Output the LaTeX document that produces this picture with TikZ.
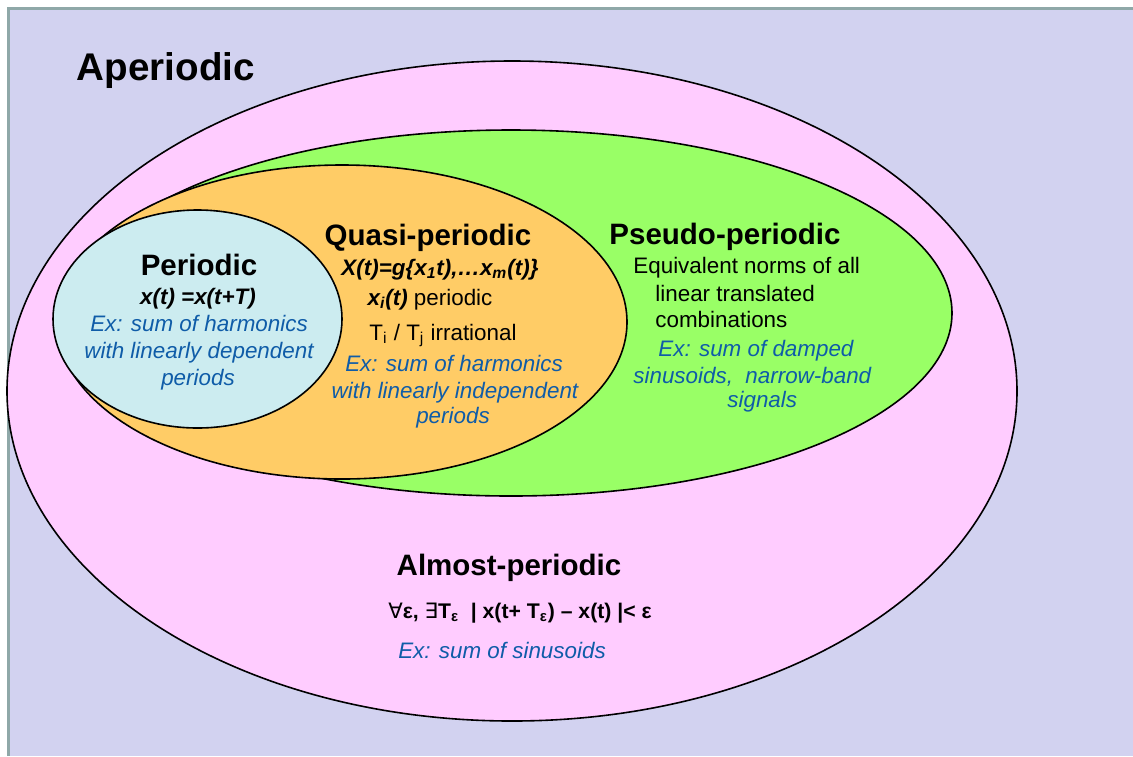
\documentclass[tikz,border=0pt]{standalone}
\usepackage{fontspec}
\setmainfont{Liberation Sans}
\newfontfamily\symfont{DejaVu Sans}
\usetikzlibrary{shapes.geometric}
\definecolor{lavender}{RGB}{210,210,240}
\definecolor{framegrey}{RGB}{143,168,168}
\definecolor{pinkset}{RGB}{255,204,255}
\definecolor{greenset}{RGB}{153,255,102}
\definecolor{orangeset}{RGB}{255,204,102}
\definecolor{blueset}{RGB}{204,236,240}
\definecolor{exblue}{RGB}{15,92,168}

\begin{document}
\begin{tikzpicture}[x=0.5pt,y=-0.5pt,
    set/.style={ellipse,draw=black,line width=0.8pt,inner sep=0pt,outer sep=0pt},
    ttl/.style={inner sep=0pt,anchor=base,font=\fontsize{14.75}{17}\selectfont\bfseries},
    txt/.style={inner sep=0pt,anchor=base,font=\fontsize{11.2}{13}\selectfont},
    frm/.style={txt,font=\fontsize{11.2}{13}\selectfont\bfseries\itshape},
    exm/.style={txt,text=exblue,font=\fontsize{11.2}{13}\selectfont\itshape}]
        \useasboundingbox (0,0) rectangle (1133,756);
        \fill[white] (0,0) rectangle (1133,756);
        \fill[lavender] (8,8) rectangle (1133,756);
        \draw[framegrey,line width=1.5pt] (8,756) -- (8,8) -- (1133,8);

        % the four sets, outermost first
        \node[set,fill=pinkset,minimum width=505pt,minimum height=330pt] (almost) at (512,391) {};
        \node[set,fill=greenset,minimum width=441pt,minimum height=183pt] (pseudo) at (511,313) {};
        \node[set,fill=orangeset,minimum width=285pt,minimum height=157pt] (quasi) at (342,322) {};
        \node[set,fill=blueset,minimum width=144.5pt,minimum height=109pt] (per) at (197.5,319) {};

        \node[ttl,font=\fontsize{19.3}{22}\selectfont\bfseries] (aper) at (166,80) {Aperiodic};

        % periodic
        \node[ttl] (perT) at (199,275) {Periodic};
        \node[frm] (per1) at (198,304) {x(t) =x(t+T)};
        \node[exm] (per2) at (199,331) {Ex: sum of harmonics};
        \node[exm] (per3) at (199,358) {with linearly dependent};
        \node[exm] (per4) at (198,385) {periods};

        % quasi-periodic
        \node[ttl] (quasiT) at (428,245) {Quasi-periodic};
        \node[frm] (quasi1) at (440,275) {X(t)=g\{x\textsubscript{1}t),\ldots x\textsubscript{m}(t)\}};
        \node[txt] (quasi2) at (430,305) {\textbf{\textit{x\textsubscript{i}(t)}} periodic};
        \node[txt] (quasi3) at (443,340) {T\textsubscript{i} / T\textsubscript{j} irrational};
        \node[exm] (quasi4) at (454,371) {Ex: sum of harmonics};
        \node[exm] (quasi5) at (455,398) {with linearly independent};
        \node[exm] (quasi6) at (453,423) {periods};

        % pseudo-periodic
        \node[ttl] (pseudoT) at (725,244) {Pseudo-periodic};
        \node[txt,anchor=base west] (pseudo1) at (633,273) {Equivalent norms of all};
        \node[txt,anchor=base west] (pseudo2) at (655,301) {linear translated};
        \node[txt,anchor=base west] (pseudo3) at (655,327) {combinations};
        \node[exm,anchor=base west] (pseudo4) at (658,356) {Ex: sum of damped};
        \node[exm,anchor=base west] (pseudo5) at (633,383) {sinusoids,~ narrow-band};
        \node[exm,anchor=base west] (pseudo6) at (727,407) {signals};

        % almost-periodic
        \node[ttl] (almostT) at (509,575) {Almost-periodic};
        \node[txt,font=\fontsize{10.6}{13}\selectfont\bfseries] (almost1) at (520,618)
            {{\symfont\mdseries ∀}ε, {\symfont\mdseries ∃}T\textsubscript{ε}~ | x(t+ T\textsubscript{ε}) – x(t) |< ε};
        \node[exm] (almost2) at (502,658) {Ex: sum of sinusoids};
    \end{tikzpicture}
\end{document}
